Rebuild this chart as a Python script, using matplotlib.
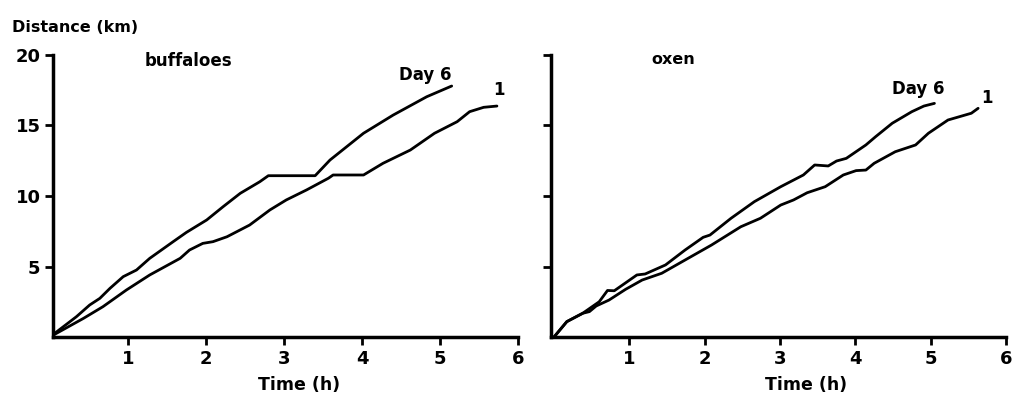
import matplotlib
matplotlib.use("Agg")
import matplotlib.pyplot as plt

# buffaloes
buf_day6_t = [0, 0.34, 0.51, 0.64, 0.77, 0.94, 1.11, 1.28, 1.58, 1.75, 2.01, 2.22, 2.44, 2.69, 2.80, 3.40, 3.59, 4.02, 4.40, 4.83, 5.15]
buf_day6_d = [0, 1.44, 2.27, 2.74, 3.45, 4.28, 4.75, 5.58, 6.76, 7.42, 8.30, 9.24, 10.19, 11.01, 11.44, 11.44, 12.55, 14.45, 15.74, 17.04, 17.80]
buf_day1_t = [0, 0.43, 0.68, 0.98, 1.28, 1.67, 1.79, 1.96, 2.09, 2.27, 2.56, 2.82, 3.03, 3.29, 3.57, 3.63, 4.02, 4.27, 4.62, 4.93, 5.22, 5.38, 5.56, 5.73]
buf_day1_d = [0, 1.32, 2.15, 3.33, 4.40, 5.58, 6.17, 6.64, 6.76, 7.11, 7.94, 9.01, 9.72, 10.43, 11.26, 11.49, 11.49, 12.32, 13.26, 14.45, 15.27, 15.98, 16.29, 16.38]

# oxen
ox_day6_t = [0, 0.17, 0.38, 0.60, 0.71, 0.80, 0.91, 1.10, 1.21, 1.48, 1.74, 1.98, 2.07, 2.35, 2.66, 3.01, 3.31, 3.46, 3.64, 3.75, 3.88, 4.14, 4.27, 4.49, 4.75, 4.91, 5.05]
ox_day6_d = [0, 1.09, 1.68, 2.50, 3.30, 3.28, 3.69, 4.40, 4.47, 5.11, 6.17, 7.07, 7.23, 8.42, 9.60, 10.66, 11.49, 12.20, 12.13, 12.48, 12.67, 13.62, 14.21, 15.16, 15.98, 16.38, 16.57]
ox_day1_t = [0, 0.17, 0.38, 0.47, 0.56, 0.73, 0.95, 1.17, 1.43, 1.74, 2.09, 2.48, 2.74, 3.01, 3.18, 3.36, 3.60, 3.84, 4.01, 4.14, 4.25, 4.53, 4.80, 4.97, 5.23, 5.54, 5.63]
ox_day1_d = [0, 1.09, 1.68, 1.80, 2.20, 2.62, 3.38, 4.04, 4.52, 5.46, 6.52, 7.82, 8.42, 9.36, 9.72, 10.23, 10.66, 11.49, 11.80, 11.84, 12.32, 13.14, 13.62, 14.45, 15.39, 15.87, 16.22]

x_ticks = [1, 2, 3, 4, 5, 6]
y_ticks = [5, 10, 15, 20]

plt.rcParams['font.family'] = ['DejaVu Sans']

W, H = 1015, 398
fig = plt.figure(figsize=(W / 100, H / 100), dpi=100)

def px_axes(x0, x1, y_top, y_bot):
    return fig.add_axes([x0 / W, 1 - y_bot / H, (x1 - x0) / W, (y_bot - y_top) / H])

axL = px_axes(53, 518, 55, 337)
axR = px_axes(551, 1006, 55, 337)

panels = [
    (axL, buf_day6_t, buf_day6_d, buf_day1_t, buf_day1_d, 0.04, True, 0.53),
    (axR, ox_day6_t, ox_day6_d, ox_day1_t, ox_day1_d, -0.04, False, 0.56),
]

for ax, t6, d6, t1, d1, xmin, show_y, xlab_pos in panels:
    ax.plot(t6, d6, color='black', lw=2.0, solid_joinstyle='round', solid_capstyle='round')
    ax.plot(t1, d1, color='black', lw=2.0, solid_joinstyle='round', solid_capstyle='round')
    ax.set_xlim(xmin, 6)
    ax.set_ylim(0, 20)
    for s in ['top', 'right']:
        ax.spines[s].set_visible(False)
    for s in ['left', 'bottom']:
        ax.spines[s].set_linewidth(2.5)
    ax.set_xticks(x_ticks)
    ax.set_yticks(y_ticks)
    ax.tick_params(axis='both', direction='out', length=6, width=2, labelsize=13, pad=3)
    ax.set_xticklabels([str(v) for v in x_ticks], fontweight='bold')
    if show_y:
        ax.set_yticklabels([str(v) for v in y_ticks], fontweight='bold')
    else:
        ax.set_yticklabels([])
    ax.set_xlabel('Time (h)', fontsize=12.5, fontweight='bold')
    ax.xaxis.set_label_coords(xlab_pos, -0.14)
    ax.patch.set_visible(False)

fig.text(12 / W, 1 - 28 / H, 'Distance (km)', fontsize=11.5, fontweight='bold', ha='left', va='center')

fig.text(188 / W, 1 - 61 / H, 'buffaloes', fontsize=12, fontweight='bold', ha='center', va='center')
fig.text(425 / W, 1 - 75 / H, 'Day 6', fontsize=12, fontweight='bold', ha='center', va='center')
fig.text(499 / W, 1 - 90 / H, '1', fontsize=12, fontweight='bold', ha='center', va='center')

fig.text(673 / W, 1 - 59 / H, 'oxen', fontsize=11.5, fontweight='bold', ha='center', va='center')
fig.text(918 / W, 1 - 89 / H, 'Day 6', fontsize=12, fontweight='bold', ha='center', va='center')
fig.text(987 / W, 1 - 98 / H, '1', fontsize=12, fontweight='bold', ha='center', va='center')

fig.savefig('out.png', dpi=100)
